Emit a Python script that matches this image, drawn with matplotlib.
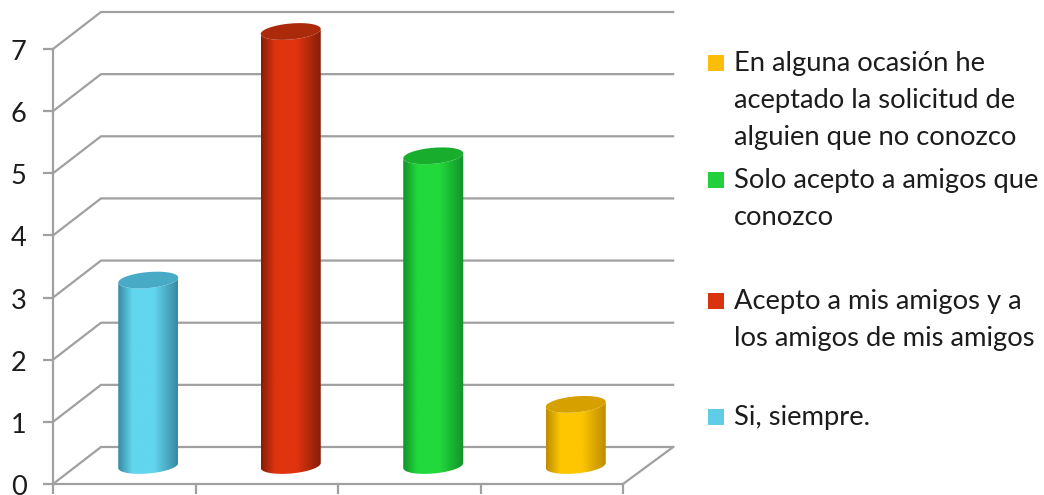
import numpy as np
import matplotlib
matplotlib.use("Agg")
import matplotlib.pyplot as plt
from matplotlib.colors import LinearSegmentedColormap
from matplotlib.patches import Polygon, Rectangle
from matplotlib.transforms import ScaledTranslation

# ---- data ----
categories = ["Si, siempre.",
              "Acepto a mis amigos y a\nlos amigos de mis amigos",
              "Solo acepto a amigos que\nconozco",
              "En alguna ocasión he\naceptado la solicitud de\nalguien que no conozco"]
values = [3, 7, 5, 1]
y_ticks = [0, 1, 2, 3, 4, 5, 6, 7]
centre_colors = ["#62d6ef", "#e0340f", "#22d93c", "#fdc600"]
edge_colors = ["#3788a2", "#851e07", "#12922a", "#bd8c00"]
cap_colors = ["#49aac6", "#ab2a0b", "#19ad2e", "#d6a000"]
swatch_colors = ["#5fcde6", "#d9340f", "#22cf3c", "#fbbd08"]

# ---- layout (pixels) ----
W, H = 1044, 495
FONT = "Lato"
GRID = "#a0a0a0"
plt.rcParams["font.family"] = [FONT, "DejaVu Sans"]

fig = plt.figure(figsize=(W / 100, H / 100), dpi=100, facecolor="white")
ax = fig.add_axes([53 / W, (H - 484) / H, 570 / W, 435 / H])
ax.set_xlim(-0.5, 3.5)
ax.set_ylim(0, 7)
ax.patch.set_visible(False)

px_x = 570 / 4          # pixels per category
px_y = 435 / 7          # pixels per value
depth_x = 48 / px_x
depth_y = 37 / px_y

# walls and floor
for v in y_ticks:
    ax.plot([-0.5, -0.5 + depth_x, 3.5 + depth_x + 0.015],
            [v, v + depth_y, v + depth_y],
            color=GRID, lw=1.6, clip_on=False, zorder=1, solid_joinstyle="miter")
ax.plot([3.5, 3.5 + depth_x + 0.015], [0, depth_y],
        color=GRID, lw=1.6, clip_on=False, zorder=1)

for side in ("top", "right"):
    ax.spines[side].set_visible(False)
for side in ("left", "bottom"):
    ax.spines[side].set_color(GRID)
    ax.spines[side].set_linewidth(1.6)
ax.set_yticks(y_ticks)
ax.set_xticks(np.arange(-0.5, 3.6, 1))
ax.set_xticklabels([])
ax.tick_params(axis="both", color=GRID, width=1.6, length=7, labelcolor="#1c1c1c")
ax.tick_params(axis="y", labelsize=19.5, pad=12)
shift = ScaledTranslation(0, -1 / 100, fig.dpi_scale_trans)
for lab in ax.get_yticklabels():
    lab.set_transform(lab.get_transform() + shift)

# cylinders
half_w = 30 / px_x
half_h = 8 / px_y
tilt = 2.5 / px_y
top_drop = 1 / px_y
t_lower = np.linspace(np.pi, 2 * np.pi, 60)
t_all = np.linspace(0, 2 * np.pi, 120)


def ring(cx, cy, t):
    return (cx + half_w * np.cos(t),
            cy + half_h * np.sin(t) + tilt * np.cos(t))


for i, (v, c_mid, c_edge, c_cap) in enumerate(
        zip(values, centre_colors, edge_colors, cap_colors)):
    cx = i + depth_x / 2
    cy0 = depth_y / 2
    cy1 = v + depth_y / 2 - top_drop
    bx, by = ring(cx, cy0, t_lower)
    tx, ty = ring(cx, cy1, t_lower[::-1])
    outline = np.column_stack([np.r_[bx, tx], np.r_[by, ty]])
    clip = Polygon(outline, closed=True, transform=ax.transData,
                   facecolor="none", edgecolor="none", clip_on=False)
    ax.add_patch(clip)
    cmap = LinearSegmentedColormap.from_list(
        "c", [(0, c_edge), (0.24, c_mid), (0.6, c_mid), (1, c_edge)])
    im = ax.imshow(np.linspace(0, 1, 256)[None, :], cmap=cmap, aspect="auto",
                   extent=(cx - half_w, cx + half_w, cy0 - 2 * half_h, cy1 + 2 * half_h),
                   zorder=3, interpolation="bilinear")
    im.set_clip_box(fig.bbox)
    im.set_clip_path(clip)
    ex, ey = ring(cx, cy1, t_all)
    ax.add_patch(Polygon(np.column_stack([ex, ey]), closed=True, facecolor=c_cap,
                         edgecolor="none", zorder=4, clip_on=False))
ax.set_xlim(-0.5, 3.5)
ax.set_ylim(0, 7)

# legend, listed top to bottom
legend_rows = [(3, 63), (2, 180), (1, 301), (0, 417)]
for idx, y_px in legend_rows:
    fig.add_artist(Rectangle((708 / W, (H - y_px - 8) / H), 16 / W, 16 / H,
                             transform=fig.transFigure, facecolor=swatch_colors[idx],
                             edgecolor="none"))
    fig.text(734 / W, (H - y_px + 12) / H, categories[idx], fontsize=19.7,
             color="#1c1c1c", va="top", ha="left", linespacing=1.59)

fig.savefig("out.png", dpi=100)
